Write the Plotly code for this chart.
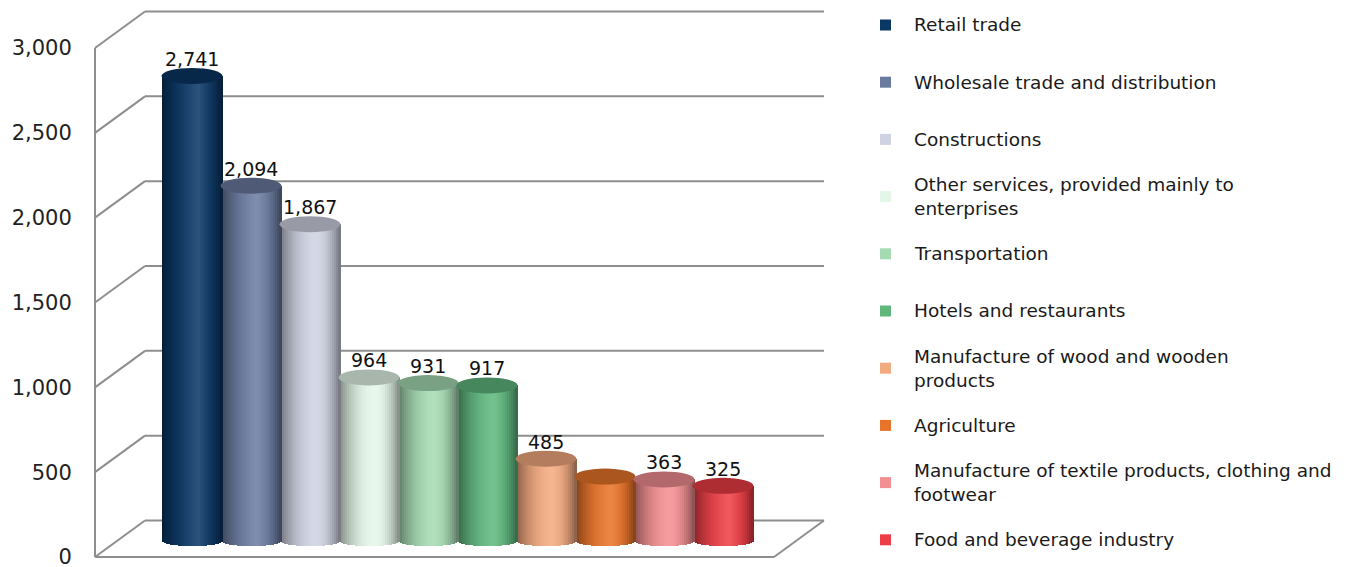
import plotly.graph_objects as go

# ---- data -------------------------------------------------------------
categories = [
    "Retail trade",
    "Wholesale trade and distribution",
    "Constructions",
    "Other services, provided mainly to<br>enterprises",
    "Transportation",
    "Hotels and restaurants",
    "Manufacture of wood and wooden<br>products",
    "Agriculture",
    "Manufacture of textile products, clothing and<br>footwear",
    "Food and beverage industry",
]
values = [2741, 2094, 1867, 964, 931, 917, 485, 380, 363, 325]
show_value = [True, True, True, True, True, True, True, False, True, True]
colors = [
    "#0b3765", "#6b7ba0", "#ced2e1", "#e4f6e8", "#a6dab3",
    "#60b77e", "#f2aa80", "#e8732a", "#f28f92", "#ec3e46",
]
y_ticks = [0, 500, 1000, 1500, 2000, 2500, 3000]

# ---- geometry (pixel layout of the oblique 3-D box) --------------------
FIG_W, FIG_H = 1346, 567
PLOT_L, PLOT_R, PLOT_T, PLOT_B = 90, 830, 6, 561
PX_PER_CAT = 59.0
PX_PER_VAL = 509.0 / 3000.0
FIRST_BAR_PX = 192.0
ZERO_PX = 557.0


def xd(px):
    return (px - FIRST_BAR_PX) / PX_PER_CAT


def yd(py):
    return (ZERO_PX - py) / PX_PER_VAL


def xp(px):
    return (px - PLOT_L) / (PLOT_R - PLOT_L)


def yp(py):
    return (PLOT_B - py) / (PLOT_B - PLOT_T)


XL, XR = xd(95), xd(774)
DX = 50.0 / PX_PER_CAT
DY = 36.5 / PX_PER_VAL
BASE = 16.0 / PX_PER_VAL
TOP_B = 8.0 / PX_PER_VAL
BOT_B = 5.0 / PX_PER_VAL
BAR_W = 61.0 / PX_PER_CAT
N_STRIPS = 30
GRID = "#8e8e8e"
FONT = "DejaVu Sans"


def hex_rgb(h):
    h = h.lstrip("#")
    return [int(h[i:i + 2], 16) for i in (0, 2, 4)]


def shade(h, u):
    """Cylinder body colour at horizontal position u in [0, 1]."""
    r, g, b = hex_rgb(h)
    peak = 0.6
    d = (u - peak) / peak if u < peak else (u - peak) / (1 - peak)
    d = min(abs(d), 1.0)
    light = 0.14 * (1 - d) ** 2
    dark = 0.45 * d ** 2.2
    out = []
    for c in (r, g, b):
        c = c + (255 - c) * light
        c = c * (1 - dark)
        out.append(int(round(max(0, min(255, c)))))
    return "rgb({},{},{})".format(*out)


def scale(h, k):
    r, g, b = hex_rgb(h)
    return "rgb({},{},{})".format(int(r * k), int(g * k), int(b * k))


fig = go.Figure()

# cylinder bodies: vertical strips with their own shading and curved base
xs = list(range(len(values)))
step = BAR_W / N_STRIPS
for j in range(N_STRIPS):
    u = (j + 0.5) / N_STRIPS
    v = 2 * u - 1
    bottom = BASE - BOT_B * (1 - v * v) ** 0.5
    fig.add_trace(go.Bar(
        x=xs,
        y=[val + BASE - bottom for val in values],
        base=[bottom] * len(values),
        offset=-BAR_W / 2 + j * step,
        width=step * (1.4 if j < N_STRIPS - 1 else 1.0),
        marker=dict(color=[shade(c, u) for c in colors], line=dict(width=0)),
        hoverinfo="skip",
        showlegend=False,
    ))

shapes = []
# back wall and left wall grid
for t in y_ticks:
    shapes.append(dict(type="line", xref="x", yref="y", layer="below",
                       x0=XL + DX, x1=XR + DX, y0=t + DY, y1=t + DY,
                       line=dict(color=GRID, width=2)))
    shapes.append(dict(type="line", xref="x", yref="y", layer="below",
                       x0=XL, x1=XL + DX, y0=t, y1=t + DY,
                       line=dict(color=GRID, width=2)))
# front left edge
shapes.append(dict(type="line", xref="x", yref="y", layer="below",
                   x0=XL, x1=XL, y0=0, y1=y_ticks[-1],
                   line=dict(color=GRID, width=2)))
# floor front and right edges
shapes.append(dict(type="line", xref="x", yref="y", layer="below",
                   x0=XL, x1=XR, y0=0, y1=0, line=dict(color=GRID, width=2)))
shapes.append(dict(type="line", xref="x", yref="y", layer="below",
                   x0=XR, x1=XR + DX, y0=0, y1=DY, line=dict(color=GRID, width=2)))

# cylinder tops
for i, (val, c) in enumerate(zip(values, colors)):
    shapes.append(dict(type="circle", xref="x", yref="y", layer="above",
                       x0=i - BAR_W / 2, x1=i + BAR_W / 2,
                       y0=val + BASE - TOP_B, y1=val + BASE + TOP_B,
                       fillcolor=scale(c, 0.74), line=dict(width=0)))

annotations = []
# value labels
for i, (val, show) in enumerate(zip(values, show_value)):
    if show:
        annotations.append(dict(x=i, y=val + BASE, xref="x", yref="y",
                                text=f"{val:,}", showarrow=False,
                                yanchor="bottom", yshift=4,
                                font=dict(family=FONT, size=19, color="#111")))

# legend
LEG_TOP, LEG_STEP = 25.0, 57.2
for k, (name, c) in enumerate(zip(categories, colors)):
    cy = LEG_TOP + k * LEG_STEP
    shapes.append(dict(type="rect", xref="paper", yref="paper",
                       x0=xp(880), x1=xp(891), y0=yp(cy + 5.5), y1=yp(cy - 5.5),
                       fillcolor=c, line=dict(width=0)))
    annotations.append(dict(x=xp(912), y=yp(cy), xref="paper", yref="paper",
                            text=name, showarrow=False, xanchor="left",
                            yanchor="middle", align="left",
                            font=dict(family=FONT, size=18.5, color="#1a1a1a")))

fig.update_layout(
    width=FIG_W, height=FIG_H,
    margin=dict(l=PLOT_L, r=FIG_W - PLOT_R, t=PLOT_T, b=FIG_H - PLOT_B, pad=0,
                autoexpand=False),
    paper_bgcolor="white", plot_bgcolor="white",
    barmode="overlay", bargap=0,
    showlegend=False,
    xaxis=dict(range=[xd(PLOT_L), xd(PLOT_R)], visible=False, fixedrange=True,
               automargin=False),
    yaxis=dict(range=[yd(PLOT_B), yd(PLOT_T)], tickvals=y_ticks,
               tickformat=",d", showgrid=False, zeroline=False, showline=False,
               ticks="outside", ticklen=13, tickcolor="rgba(0,0,0,0)",
               ticklabeloverflow="allow", automargin=False,
               tickfont=dict(family=FONT, size=21, color="#222"),
               fixedrange=True),
    shapes=shapes,
    annotations=annotations,
)

fig.write_html("out.html")
